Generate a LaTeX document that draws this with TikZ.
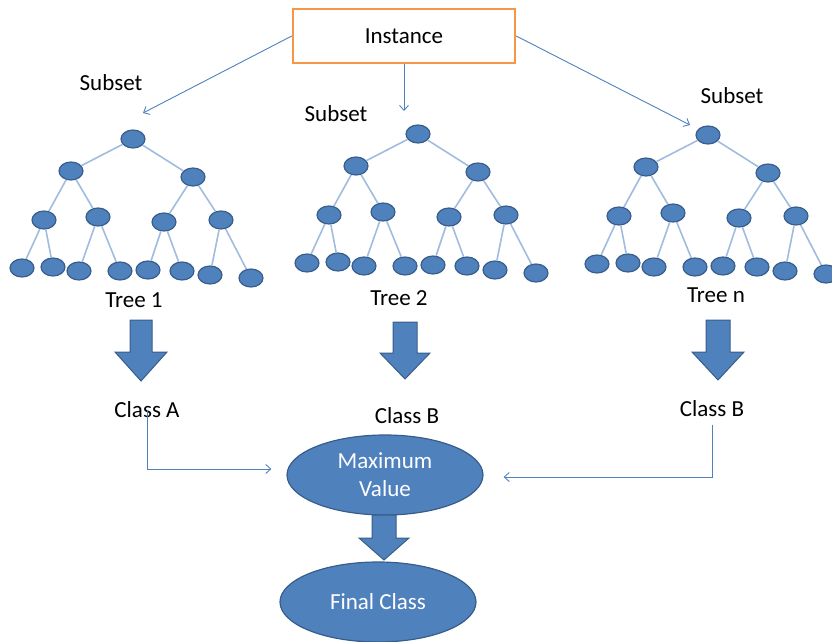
\documentclass[tikz,border=0pt]{standalone}
\usepackage{fontspec}
\setmainfont{Carlito}
\usetikzlibrary{arrows.meta,shapes.geometric}
\definecolor{nodeblue}{RGB}{79,129,189}
\definecolor{nodeedge}{RGB}{56,93,138}
\definecolor{branchblue}{RGB}{160,188,222}
\definecolor{boxorange}{RGB}{247,150,70}
% thick down arrow: x, top, head start, tip, half shaft, half head
\newcommand\bigdown[6]{\filldraw[blockarr] ({#1-#5},#2) -- ({#1+#5},#2) -- ({#1+#5},#3) -- ({#1+#6},#3) -- (#1,#4) -- ({#1-#6},#3) -- ({#1-#5},#3) -- cycle;}
\begin{document}
\begin{tikzpicture}[x=1pt,y=-1pt,every node/.style={font=\fontsize{23}{28}\selectfont},
  leaf/.style={ellipse,draw=nodeedge,line width=1.2pt,fill=nodeblue,minimum width=24pt,minimum height=18pt,inner sep=0pt},
  branch/.style={draw=branchblue,line width=1.6pt},
  link/.style={draw=nodeblue,line width=0.9pt,-{Straight Barb[length=5pt,width=9pt]}},
  blockarr/.style={fill=nodeblue,draw=nodeedge,line width=1pt},
  result/.style={ellipse,draw=nodeedge,line width=1.2pt,fill=nodeblue,text=white,minimum width=196pt,minimum height=80pt,inner sep=0pt,align=center}]
\useasboundingbox (0,0) rectangle (832,642);
\node[draw=boxorange,line width=2.5pt,minimum width=222pt,minimum height=54pt] (inst) at (404,36) {Instance};
\node (sub1) at (111,83) {Subset};
\node (sub2) at (336,114) {Subset};
\node (subn) at (732,96) {Subset};
\coordinate (s1) at (143,113);
\coordinate (s2) at (404,111);
\coordinate (sn) at (690,125);
\draw[link] (inst.west) -- (s1);
\draw[link] (inst) -- (s2);
\draw[link] (inst.east) -- (sn);
% the three trees
\foreach \t/\dx/\dy in {1/0/0,2/285/-5,n/575/-4}{
\begin{scope}[shift={(\dx,\dy)}]
\node[leaf] (r-\t) at (133,139) {};
\node[leaf] (a-\t) at (71,171) {};
\node[leaf] (b-\t) at (193,177) {};
\node[leaf] (c-\t) at (44,220) {};
\node[leaf] (d-\t) at (98,217) {};
\node[leaf] (e-\t) at (164,222) {};
\node[leaf] (f-\t) at (221,220) {};
\node[leaf] (l1-\t) at (22,268) {};
\node[leaf] (l2-\t) at (53,267) {};
\node[leaf] (l3-\t) at (79,271) {};
\node[leaf] (l4-\t) at (120,271) {};
\node[leaf] (l5-\t) at (148,270) {};
\node[leaf] (l6-\t) at (182,271) {};
\node[leaf] (l7-\t) at (210,275) {};
\node[leaf] (l8-\t) at (251,278) {};
\foreach \p/\c in {r/a,r/b,a/c,a/d,b/e,b/f,c/l1,c/l2,d/l3,d/l4,e/l5,e/l6,f/l7,f/l8}
  \draw[branch] (\p-\t) -- (\c-\t);
\end{scope}}
\node (tree1) at (134,300) {Tree 1};
\node (tree2) at (399,298) {Tree 2};
\node (treen) at (716,295) {Tree n};
% votes
\bigdown{141}{320}{352}{381}{11}{26}
\bigdown{405}{322}{353}{379}{12}{25}
\bigdown{718}{320}{352}{380}{12}{26}
\node (cls1) at (147,410) {Class A};
\node (cls2) at (407,416) {Class B};
\node (clsn) at (712,409) {Class B};
\node[result] (mv) at (385,475) {Maximum\\Value};
\bigdown{384}{515}{538}{560}{12}{25}
\node[result] (fc) at (378,602) {Final Class};
\draw[link,shorten >=15pt] (cls1.center) |- ([yshift=6pt]mv.west);
\draw[link,shorten >=20pt] ([yshift=-4pt]clsn.south) |- ([yshift=-2pt]mv.east);
\end{tikzpicture}
\end{document}
